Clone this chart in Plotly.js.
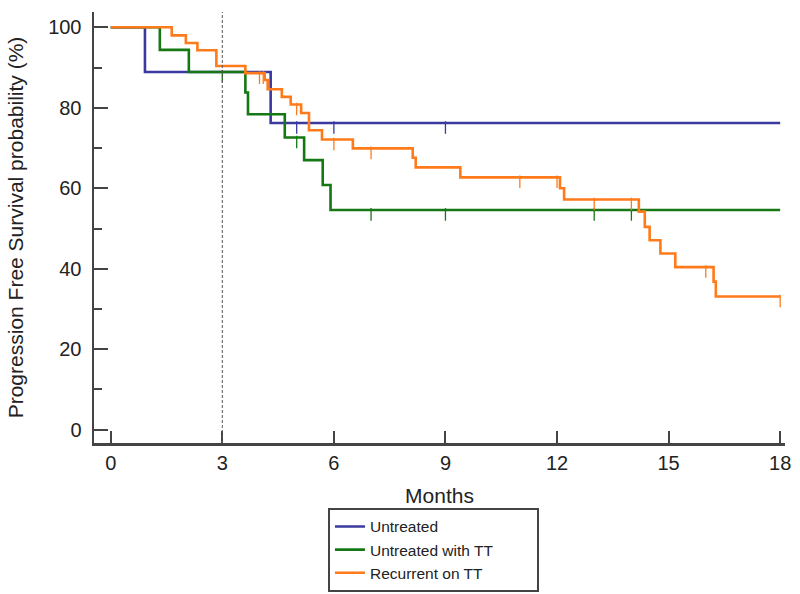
<!DOCTYPE html>
<html>
<head>
<meta charset="utf-8">
<script src="https://cdn.plot.ly/plotly-3.0.1.min.js"></script>
<style>html,body{margin:0;padding:0;background:#fff;}#chart{width:800px;height:594px;}</style>
</head>
<body>
<div id="chart"></div>
<script>
// Kaplan-Meier step data (months, survival %)
const seriesNames = ["Untreated", "Untreated with TT", "Recurrent on TT"];
const seriesColors = ["#3a3a9e", "#157815", "#ff7a1a"];

const untreatedT = [0, 0.92, 4.3, 18];
const untreatedS = [100, 88.9, 76.2, 76.2];
const untreatedCensor = [5.0, 6.0, 9.0];

const withTTT = [0, 1.32, 2.1, 3.62, 3.69, 4.68, 5.2, 5.7, 5.91, 18];
const withTTS = [100, 94.4, 88.9, 83.8, 78.4, 72.6, 67.0, 60.8, 54.6, 54.6];
const withTTCensor = [3.0, 5.0, 7.0, 9.0, 13.0, 14.0];

const recurrentT = [0, 1.64, 2.02, 2.33, 2.84, 3.62, 4.14, 4.22, 4.6, 4.84, 5.12, 5.33, 5.68, 6.51, 8.12, 8.2, 9.4, 12.08, 12.19, 14.2, 14.36, 14.49, 14.78, 15.18, 16.21, 16.27, 18];
const recurrentS = [100, 98.0, 96.1, 94.3, 90.4, 88.6, 86.9, 84.6, 82.7, 80.8, 78.7, 74.4, 72.1, 69.9, 67.6, 65.2, 62.7, 60.0, 57.2, 54.2, 50.4, 47.1, 43.8, 40.4, 36.8, 33.1, 33.1];
const recurrentCensor = [4.0, 4.1, 5.0, 6.0, 7.0, 11.0, 12.0, 13.0, 14.0, 16.0, 18.0];

const xTicks = [0, 3, 6, 9, 12, 15, 18];
const yTicks = [0, 20, 40, 60, 80, 100];
const landmarkMonth = 3;

function stepValue(T, S, t) {
  let v = S[0];
  for (let i = 0; i < T.length; i++) { if (T[i] <= t) v = S[i]; }
  return v;
}

const groups = [
  [untreatedT, untreatedS, untreatedCensor],
  [withTTT, withTTS, withTTCensor],
  [recurrentT, recurrentS, recurrentCensor]
];

// invisible right padding so the legend box is as wide as the original's
const legendPad = "\u00a0".repeat(9);

const traces = [];
groups.forEach((g, i) => {
  traces.push({
    x: g[0], y: g[1], type: "scatter", mode: "lines",
    line: {shape: "hv", color: seriesColors[i], width: 2.6},
    name: seriesNames[i] + (i === 1 ? legendPad : ""), showlegend: true, hoverinfo: "skip"
  });
});
groups.forEach((g, i) => {
  traces.push({
    x: g[2], y: g[2].map(t => stepValue(g[0], g[1], t) - 1.1),
    type: "scatter", mode: "markers",
    marker: {symbol: "line-ns-open", size: 9, color: seriesColors[i], line: {color: seriesColors[i], width: 1.3}},
    showlegend: false, hoverinfo: "skip"
  });
});

const font = "Arial, 'Liberation Sans', sans-serif";
const layout = {
  width: 800, height: 594,
  margin: {l: 94, r: 15, t: 12, b: 151},
  paper_bgcolor: "#fff", plot_bgcolor: "#fff",
  font: {family: font, color: "#222", size: 20},
  showlegend: true,
  xaxis: {
    range: [-0.45, 18.13], tickvals: xTicks, ticktext: xTicks.map(String),
    ticks: "inside", ticklen: 12, tickwidth: 2, tickcolor: "#444",
    showline: true, linecolor: "#444", linewidth: 2.5,
    showgrid: false, zeroline: false,
    tickfont: {size: 20, family: font, color: "#222"},
    ticklabelstandoff: 0,
    title: {text: "Months", font: {size: 21, family: font, color: "#222"}, standoff: 16}
  },
  yaxis: {
    range: [-3.3, 103.8], tickvals: yTicks, ticktext: yTicks.map(String),
    ticks: "inside", ticklen: 14, tickwidth: 2, tickcolor: "#444",
    minor: {tickvals: [10, 30, 50, 70, 90], ticks: "inside", ticklen: 8, tickwidth: 2, tickcolor: "#444"},
    showline: true, linecolor: "#444", linewidth: 2.5,
    showgrid: false, zeroline: false,
    tickfont: {size: 20, family: font, color: "#222"},
    ticklabelstandoff: 6,
    title: {text: "Progression Free Survival probability (%)", font: {size: 21, family: font, color: "#222"}, standoff: 19}
  },
  shapes: [{
    type: "line", xref: "x", yref: "paper", x0: landmarkMonth, x1: landmarkMonth, y0: 0, y1: 1,
    line: {color: "#555", width: 1, dash: "3px,2px"}
  }],
  legend: {
    xref: "paper", yref: "container",
    x: 0.3386, y: 0.145, xanchor: "left", yanchor: "top",
    bordercolor: "#444", borderwidth: 2, bgcolor: "#fff",
    font: {size: 15.5, family: font, color: "#222"},
    tracegroupgap: 0
  }
};

Plotly.newPlot("chart", traces, layout, {displayModeBar: false, staticPlot: true});
</script>
</body>
</html>
